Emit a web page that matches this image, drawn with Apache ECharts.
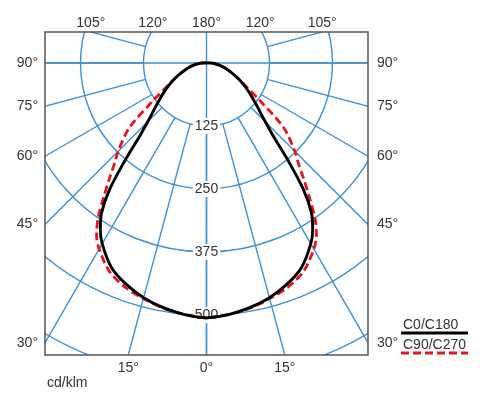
<!DOCTYPE html>
<html><head><meta charset="utf-8">
<script src="https://cdn.jsdelivr.net/npm/echarts@6/dist/echarts.min.js"></script>
<style>html,body{margin:0;padding:0;background:#fff}#c{width:494px;height:411px}</style>
</head><body><div id="c"></div>
<script>
// ---- data (gamma angle in degrees from nadir, intensity in cd/klm) ----
const gammaDeg = [0,5,10,15,20,25,30,32.5,35,37.5,40,42.5,45,50,55,60,65,70,75,80,85,90,95,180];
const c0c180  = [506,501,493,482,467,447,414,392,363,315,250,195,165,129,105,84,66,50,38,27,17,8,2,0];
const c90c270 = [506,501,494,484,473,456,426,406,375,335,300,270,248,200,128,88,66,50,38,27,17,8,2,0];
const seriesNames = ['C0/C180','C90/C270'];
const radiusTickLabels = [125,250,375,500];
const angleTickLabels = [0,15,30,45,60,75,90,105,120,180];
const unitLabel = 'cd/klm';

// ---- layout ----
const CX = 206.5, CY = 63;
const BOX = {l:45, t:32, r:368, b:355};
const PX_PER = 0.504;
const RMAX = 700;
const BLUE = '#3a93d5';
const TXT = '#333';
const FAM = '"Liberation Sans", Arial, Helvetica, sans-serif';
const FONT = '14px ' + FAM;

function loop(vals){
  const n = gammaDeg.length;
  const left = gammaDeg.map((g,i)=>[vals[i], g]);
  const right = [];
  for (let k = n-1; k >= 0; k--) right.push([vals[k], 360 - gammaDeg[k]]);
  return left.concat(right);
}

function edgeHit(g, side){
  const a = g*Math.PI/180;
  const dx = side*Math.sin(a), dy = Math.cos(a);
  let t = Infinity, edge = null;
  if (dx < -1e-9){ const tt=(BOX.l-CX)/dx; if(tt<t){t=tt;edge='l';} }
  if (dx >  1e-9){ const tt=(BOX.r-CX)/dx; if(tt<t){t=tt;edge='r';} }
  if (dy >  1e-9){ const tt=(BOX.b-CY)/dy; if(tt<t){t=tt;edge='b';} }
  if (dy < -1e-9){ const tt=(BOX.t-CY)/dy; if(tt<t){t=tt;edge='t';} }
  return {x: CX+dx*t, y: CY+dy*t, edge};
}

function txt(text, x, y, align, valign, z){
  return {type:'text', z: z||102, silent:true,
    style:{text, x, y, fill:TXT, font:FONT, align, verticalAlign:valign, textAlign:align, textVerticalAlign:valign}};
}

const graphics = [
  {type:'rect', z:100, silent:true, shape:{x:0,y:0,width:494,height:BOX.t}, style:{fill:'#fff'}},
  {type:'rect', z:100, silent:true, shape:{x:0,y:BOX.b,width:494,height:411-BOX.b}, style:{fill:'#fff'}},
  {type:'rect', z:100, silent:true, shape:{x:0,y:0,width:BOX.l,height:411}, style:{fill:'#fff'}},
  {type:'rect', z:100, silent:true, shape:{x:BOX.r,y:0,width:494-BOX.r,height:411}, style:{fill:'#fff'}},
  {type:'rect', z:101, silent:true, shape:{x:BOX.l,y:BOX.t,width:BOX.r-BOX.l,height:BOX.b-BOX.t}, style:{fill:null, stroke:'#555', lineWidth:1.5}}
];

angleTickLabels.forEach(g=>{
  const sides = (g === 0 || g === 180) ? [1] : [-1, 1];
  sides.forEach(s=>{
    const h = edgeHit(g, s);
    const lab = g + '°';
    if (h.edge === 'l') graphics.push(txt(lab, BOX.l-7, h.y, 'right', 'middle'));
    else if (h.edge === 'r') graphics.push(txt(lab, BOX.r+9, h.y, 'left', 'middle'));
    else if (h.edge === 't') graphics.push(txt(lab, h.x, BOX.t-9, 'center', 'middle'));
    else graphics.push(txt(lab, h.x, BOX.b+13, 'center', 'middle'));
  });
});
graphics.push(txt(unitLabel, 47, 383, 'left', 'middle'));

// legend (text above line sample)
const LX0 = 401, LX1 = 468;
graphics.push(txt(seriesNames[0], 403, 325, 'left', 'middle'));
graphics.push({type:'line', z:102, silent:true, shape:{x1:LX0,y1:333,x2:LX1,y2:333}, style:{stroke:'#000', lineWidth:3}});
graphics.push(txt(seriesNames[1], 403, 345, 'left', 'middle'));
graphics.push({type:'line', z:102, silent:true, shape:{x1:LX0,y1:353,x2:LX1,y2:353}, style:{stroke:'#e8141c', lineWidth:3, lineDash:[8,4]}});

const hiddenAxisParts = {axisLine:{show:false}, axisTick:{show:false}};
const gridLine = {show:true, lineStyle:{color:BLUE, width:1.4}};

const option = {
  animation:false,
  backgroundColor:'#fff',
  polar:[
    {center:[CX,CY], radius:[0, RMAX*PX_PER]},
    {center:[CX,CY], radius:[125*PX_PER, RMAX*PX_PER]}
  ],
  angleAxis:[
    Object.assign({polarIndex:0, type:'value', min:0, max:360, interval:90, startAngle:270, clockwise:true,
      axisLabel:{show:false}, splitLine:gridLine}, hiddenAxisParts),
    Object.assign({polarIndex:1, type:'value', min:0, max:360, interval:15, startAngle:270, clockwise:true,
      axisLabel:{show:false}, splitLine:gridLine}, hiddenAxisParts)
  ],
  radiusAxis:[
    Object.assign({polarIndex:0, type:'value', min:0, max:RMAX, interval:125, z:1,
      splitLine:gridLine,
      axisLabel:{show:true, margin:0, align:'center', verticalAlign:'middle', showMinLabel:false, showMaxLabel:false,
        formatter:v=>radiusTickLabels.includes(v)?String(v):'',
        color:TXT, fontSize:14, fontFamily:FAM, backgroundColor:'#fff', padding:[1,2]}}, hiddenAxisParts),
    Object.assign({polarIndex:1, type:'value', min:125, max:RMAX,
      splitLine:{show:false}, axisLabel:{show:false}}, hiddenAxisParts)
  ],
  series:[
    {type:'line', name:seriesNames[1], coordinateSystem:'polar', polarIndex:0, data:loop(c90c270),
      symbol:'none', smooth:0.3, silent:true, z:3,
      lineStyle:{color:'#e8141c', width:2.8, type:[8,4]}},
    {type:'line', name:seriesNames[0], coordinateSystem:'polar', polarIndex:0, data:loop(c0c180),
      symbol:'none', smooth:0.3, silent:true, z:4,
      lineStyle:{color:'#000', width:2.9}}
  ],
  graphic: graphics
};

const chart = echarts.init(document.getElementById('c'), null, {renderer:'canvas'});
chart.setOption(option);
</script>
</body></html>
